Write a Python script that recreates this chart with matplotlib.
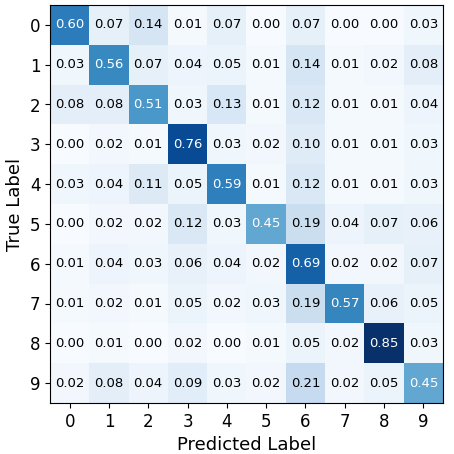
import numpy as np
import matplotlib
matplotlib.use("Agg")
import matplotlib.pyplot as plt

CLASSES = [str(i) for i in range(10)]
ROW_0 = [0.60, 0.07, 0.14, 0.01, 0.07, 0.00, 0.07, 0.00, 0.00, 0.03]
ROW_1 = [0.03, 0.56, 0.07, 0.04, 0.05, 0.01, 0.14, 0.01, 0.02, 0.08]
ROW_2 = [0.08, 0.08, 0.51, 0.03, 0.13, 0.01, 0.12, 0.01, 0.01, 0.04]
ROW_3 = [0.00, 0.02, 0.01, 0.76, 0.03, 0.02, 0.10, 0.01, 0.01, 0.03]
ROW_4 = [0.03, 0.04, 0.11, 0.05, 0.59, 0.01, 0.12, 0.01, 0.01, 0.03]
ROW_5 = [0.00, 0.02, 0.02, 0.12, 0.03, 0.45, 0.19, 0.04, 0.07, 0.06]
ROW_6 = [0.01, 0.04, 0.03, 0.06, 0.04, 0.02, 0.69, 0.02, 0.02, 0.07]
ROW_7 = [0.01, 0.02, 0.01, 0.05, 0.02, 0.03, 0.19, 0.57, 0.06, 0.05]
ROW_8 = [0.00, 0.01, 0.00, 0.02, 0.00, 0.01, 0.05, 0.02, 0.85, 0.03]
ROW_9 = [0.02, 0.08, 0.04, 0.09, 0.03, 0.02, 0.21, 0.02, 0.05, 0.45]

cm = np.array([ROW_0, ROW_1, ROW_2, ROW_3, ROW_4, ROW_5, ROW_6, ROW_7, ROW_8, ROW_9])

fig = plt.figure(figsize=(4.54, 4.54), dpi=100)
ax = fig.add_axes([50 / 454, 51 / 454, 393 / 454, 398 / 454])
ax.imshow(cm, cmap="Blues", aspect="auto", interpolation="nearest")
ax.set_xticks(range(10))
ax.set_xticklabels(CLASSES, fontsize=12)
ax.set_yticks(range(10))
ax.set_yticklabels(CLASSES, fontsize=12)
ax.set_xlabel("Predicted Label", fontsize=13)
ax.set_ylabel("True Label", fontsize=13)

thresh = cm.max() / 2
for i in range(10):
    for j in range(10):
        ax.text(j, i, f"{cm[i, j]:.2f}", ha="center", va="center", fontsize=9.5,
                color="white" if cm[i, j] > thresh else "black")

fig.savefig("out.png", dpi=100)
